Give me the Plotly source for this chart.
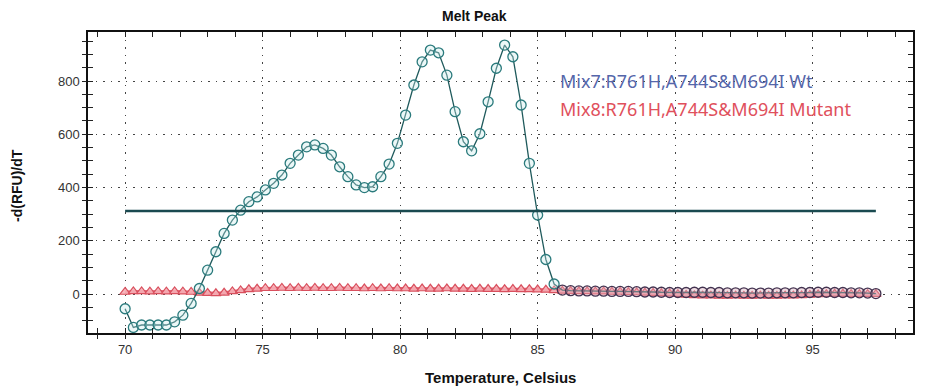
import plotly.graph_objects as go

temperature = [70.0, 70.3, 70.6, 70.9, 71.2, 71.5, 71.8, 72.1, 72.4, 72.7,
               73.0, 73.3, 73.6, 73.9, 74.2, 74.5, 74.8, 75.1, 75.4, 75.7,
               76.0, 76.3, 76.6, 76.9, 77.2, 77.5, 77.8, 78.1, 78.4, 78.7,
               79.0, 79.3, 79.6, 79.9, 80.2, 80.5, 80.8, 81.1, 81.4, 81.7,
               82.0, 82.3, 82.6, 82.9, 83.2, 83.5, 83.8, 84.1, 84.4, 84.7,
               85.0, 85.3, 85.6, 85.9, 86.2, 86.5, 86.8, 87.1, 87.4, 87.7,
               88.0, 88.3, 88.6, 88.9, 89.2, 89.5, 89.8, 90.1, 90.4, 90.7,
               91.0, 91.3, 91.6, 91.9, 92.2, 92.5, 92.8, 93.1, 93.4, 93.7,
               94.0, 94.3, 94.6, 94.9, 95.2, 95.5, 95.8, 96.1, 96.4, 96.7,
               97.0, 97.3]

wt_values = [-55, -125, -116, -116, -116, -116, -104, -79, -35, 21,
             90, 159, 228, 278, 315, 347, 365, 391, 416, 447,
             491, 522, 553, 560, 547, 522, 478, 441, 410, 400,
             403, 441, 488, 566, 672, 785, 872, 916, 906, 822,
             685, 572, 538, 602, 722, 848, 935, 891, 710, 491,
             297, 130, 38, 15, 13, 12, 12, 11, 11, 10,
             10, 10, 9, 8, 8, 7, 6, 6, 6, 7,
             7, 6, 6, 5, 5, 5, 4, 4, 4, 5,
             5, 5, 6, 6, 7, 7, 6, 6, 5, 5,
             4, 2]

mutant_values = [8, 10, 10, 9, 10, 9, 10, 9, 8, 5,
                 4, 3, 5, 10, 14, 18, 20, 22, 22, 23,
                 22, 23, 22, 23, 22, 22, 23, 22, 22, 21,
                 22, 21, 22, 21, 21, 20, 21, 20, 20, 21,
                 20, 20, 19, 20, 19, 19, 18, 19, 18, 18,
                 17, 16, 14, 12, 11, 10, 10, 9, 9, 8,
                 8, 7, 6, 5, 4, 3, 2, 0, -3, -5,
                 -6, -6, -7, -7, -6, -7, -7, -6, -7, -7,
                 -6, -6, -5, -3, -1, 0, 1, 1, 0, 0,
                 0, 0]

threshold_x = [70.0, 97.3]
threshold_y = [312, 312]

legend_labels = ["Mix7:R761H,A744S&M694I Wt", "Mix8:R761H,A744S&M694I Mutant"]

x_ticks = [70, 75, 80, 85, 90, 95]
y_ticks = [0, 200, 400, 600, 800]

narrow = "Liberation Sans Narrow, Arial Narrow, Liberation Sans, Arial, sans-serif"

# page has an 8px body margin; size the figure so it fits the 925x389 window
OFF = 8
W, H = 925 - OFF, 389 - OFF
L, R, T, B = 88 - OFF, 12, 32 - OFF, 56
PW, PH = W - L - R, H - T - B


def px_x(p):
    # p: page pixel
    return (p - OFF - L) / PW


def px_y(p):
    return (H - B - (p - OFF)) / PH


wt_marker_line = ["#2a7a7c" if t < 85.8 else "#433350" for t in temperature]
wt_marker_fill = ["rgba(200,235,235,0.35)" if t < 85.8 else "rgba(220,170,185,0.4)"
                  for t in temperature]

fig = go.Figure()

fig.add_trace(go.Scatter(
    x=temperature, y=mutant_values, mode="lines+markers",
    line=dict(color="#e26272", width=3),
    marker=dict(symbol="triangle-up", size=9, color="rgba(246,175,182,0.9)",
                line=dict(color="#d9505e", width=1.2)),
    showlegend=False, xaxis="x", yaxis="y"))

fig.add_trace(go.Scatter(
    x=temperature, y=wt_values, mode="lines+markers",
    line=dict(color="#1f5a5c", width=1.3),
    marker=dict(symbol="circle", size=10, color=wt_marker_fill,
                line=dict(color=wt_marker_line, width=1.3)),
    showlegend=False, xaxis="x", yaxis="y"))

fig.add_trace(go.Scatter(
    x=threshold_x, y=threshold_y, mode="lines",
    line=dict(color="#1a4a50", width=2.5),
    showlegend=False, hoverinfo="skip", xaxis="x", yaxis="y"))

fig.add_trace(go.Scatter(x=[None], y=[None], xaxis="x2", yaxis="y2", showlegend=False,
                         hoverinfo="skip"))

xr = [68.65, 98.65]
yr = [-146, 984]

grid_dash = "1.5px,6px"

fig.update_layout(
    width=W, height=H,
    margin=dict(l=L, r=R, t=T, b=B, autoexpand=False),
    paper_bgcolor="white", plot_bgcolor="white",
    xaxis=dict(range=xr, tickvals=x_ticks, ticks="inside", ticklen=5, tickwidth=1.2,
               tickcolor="#222", mirror="ticks", showline=True, linecolor="#111", linewidth=1.5,
               showgrid=True, gridcolor="#444", griddash=grid_dash, gridwidth=1.3,
               minor=dict(dtick=1, ticks="inside", ticklen=5, tickcolor="#222", showgrid=False),
               zeroline=False, automargin=False, ticklabelstandoff=4,
               tickfont=dict(family=narrow, size=13, color="#333")),
    yaxis=dict(range=yr, tickvals=y_ticks, ticks="inside", ticklen=5, tickwidth=1.2,
               tickcolor="#222", mirror="ticks", showline=True, linecolor="#111", linewidth=1.5,
               showgrid=True, gridcolor="#444", griddash=grid_dash, gridwidth=1.3,
               minor=dict(dtick=50, ticks="inside", ticklen=5, tickcolor="#222", showgrid=False),
               zeroline=False, automargin=False, ticklabelstandoff=4,
               tickfont=dict(family=narrow, size=13, color="#333")),
    xaxis2=dict(range=xr, overlaying="x", side="bottom", anchor="y2", tickvals=x_ticks,
                showticklabels=False, ticks="outside", ticklen=5, tickcolor="#222",
                minor=dict(dtick=1, ticks="outside", ticklen=5, tickcolor="#222"),
                showgrid=False, zeroline=False, showline=False, automargin=False),
    yaxis2=dict(range=yr, overlaying="y", side="left", anchor="x2", tickvals=y_ticks,
                showticklabels=False, ticks="outside", ticklen=5, tickcolor="#222",
                minor=dict(dtick=50, ticks="outside", ticklen=5, tickcolor="#222"),
                showgrid=False, zeroline=False, showline=False, automargin=False),
    shapes=[
        dict(type="rect", xref="paper", yref="paper", layer="below",
             x0=px_x(553), x1=px_x(906), y0=px_y(123), y1=px_y(66),
             fillcolor="white", line=dict(width=0)),
    ],
    annotations=[
        dict(text="<b>Melt Peak</b>", xref="paper", yref="paper", x=px_x(474), y=px_y(16),
             xanchor="center", yanchor="middle", showarrow=False,
             font=dict(family=narrow, size=14, color="#111")),
        dict(text="<b>Temperature, Celsius</b>", xref="paper", yref="paper",
             x=px_x(500), y=px_y(377), xanchor="center", yanchor="middle", showarrow=False,
             font=dict(family=narrow, size=15, color="#111")),
        dict(text="<b>-d(RFU)/dT</b>", xref="paper", yref="paper", textangle=-90,
             x=px_x(17), y=px_y(186), xanchor="center", yanchor="middle", showarrow=False,
             font=dict(family=narrow, size=14, color="#111")),
        dict(text=legend_labels[0], xref="paper", yref="paper", x=px_x(558), y=px_y(81),
             xanchor="left", yanchor="middle", showarrow=False,
             font=dict(family="Noto Sans, Open Sans, sans-serif", size=18, color="#5566aa")),
        dict(text=legend_labels[1], xref="paper", yref="paper", x=px_x(558), y=px_y(109),
             xanchor="left", yanchor="middle", showarrow=False,
             font=dict(family="Noto Sans, Open Sans, sans-serif", size=18, color="#e0505c")),
    ],
)

fig.write_html("out.html")
